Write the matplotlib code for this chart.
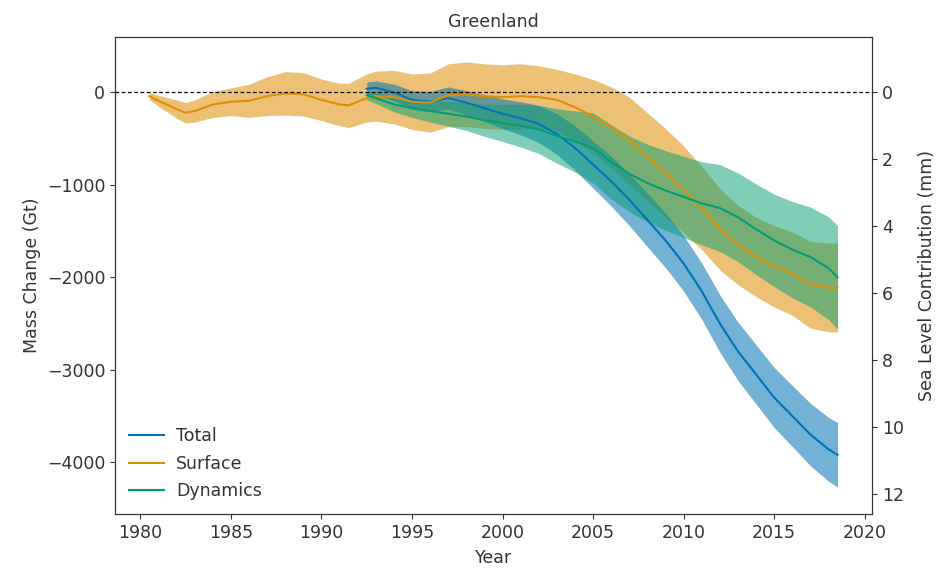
import numpy as np
import matplotlib.pyplot as plt

# Greenland cumulative mass change (Gt) and uncertainty
years_smb = [1980.5, 1981, 1982, 1982.5, 1983, 1984, 1985, 1986, 1987, 1988, 1989, 1990,
             1991, 1991.5, 1992, 1992.5, 1993, 1994, 1995, 1996, 1997, 1998, 1999, 2000,
             2001, 2002, 2003, 2004, 2005, 2006, 2007, 2008, 2009, 2010, 2011, 2012,
             2013, 2014, 2015, 2016, 2017, 2018, 2018.5]
surface = [-40, -90, -180, -220, -200, -130, -100, -90, -40, -10, -20, -80,
           -130, -140, -100, -60, -40, -50, -100, -110, -30, -20, -40, -50,
           -40, -50, -80, -160, -260, -380, -520, -700, -870, -1050, -1250, -1480,
           -1650, -1780, -1880, -1960, -2080, -2110, -2110]
surface_err = [40, 60, 100, 110, 120, 140, 150, 180, 210, 235, 235, 225,
               230, 240, 250, 260, 270, 290, 300, 320, 340, 350, 350, 350,
               350, 340, 330, 360, 400, 440, 470, 480, 480, 470, 450, 440,
               430, 430, 440, 450, 470, 480, 480]

years_tot = [1992.5, 1993, 1994, 1995, 1996, 1997, 1998, 1999, 2000, 2001, 2002, 2003,
             2004, 2005, 2006, 2007, 2008, 2009, 2010, 2011, 2012, 2013, 2014,
             2015, 2016, 2017, 2018, 2018.5]
total = [40, 50, 0, -80, -100, -60, -110, -170, -230, -280, -340, -450,
         -600, -780, -960, -1160, -1380, -1600, -1850, -2150, -2500, -2800, -3050,
         -3300, -3500, -3700, -3860, -3920]
total_err = [70, 75, 90, 100, 110, 120, 130, 145, 160, 180, 200, 220,
             240, 255, 270, 280, 290, 295, 300, 305, 310, 315, 320,
             325, 330, 338, 345, 350]
dynamics = [-30, -60, -130, -170, -200, -230, -260, -300, -330, -360, -400, -470,
            -530, -600, -750, -880, -980, -1060, -1130, -1200, -1250, -1350, -1480,
            -1600, -1700, -1780, -1900, -2000]
dynamics_err = [50, 60, 80, 100, 120, 135, 150, 175, 200, 230, 260, 295,
                330, 380, 400, 410, 420, 430, 440, 450, 470, 480, 490,
                500, 520, 540, 555, 560]

gt_per_mm = 362.0

c_tot = '#0173b2'
c_smb = '#de8f05'
c_dyn = '#029e73'

plt.rcParams['font.family'] = 'DejaVu Sans'
plt.rcParams['font.size'] = 12.5
plt.rcParams['axes.edgecolor'] = '#333333'
plt.rcParams['xtick.color'] = '#333333'
plt.rcParams['ytick.color'] = '#333333'
plt.rcParams['text.color'] = '#333333'
plt.rcParams['axes.labelcolor'] = '#333333'

fig = plt.figure(figsize=(9.36, 5.71), dpi=100)
ax = fig.add_axes([0.1229, 0.0998, 0.8087, 0.8354])

ys = np.array(surface)
es = np.array(surface_err)
yt = np.array(total)
et = np.array(total_err)
yd = np.array(dynamics)
ed = np.array(dynamics_err)

ax.fill_between(years_smb, ys - es, ys + es, color=c_smb, alpha=0.55, lw=0)
ax.fill_between(years_tot, yt - et, yt + et, color=c_tot, alpha=0.55, lw=0)
ax.fill_between(years_tot, yd - ed, yd + ed, color=c_dyn, alpha=0.5, lw=0)

ax.plot(years_tot, total, color=c_tot, lw=1.5, label='Total')
ax.plot(years_smb, surface, color=c_smb, lw=1.5, label='Surface')
ax.plot(years_tot, dynamics, color=c_dyn, lw=1.5, label='Dynamics')

ax.axhline(0, color='k', ls='--', lw=0.9, dashes=(3, 2))

ax.set_xlim(1978.6, 2020.4)
ax.set_ylim(-4560, 600)
ax.set_xticks(np.arange(1980, 2021, 5))
ax.set_yticks([0, -1000, -2000, -3000, -4000])
ax.set_xlabel('Year', labelpad=5)
ax.set_ylabel('Mass Change (Gt)')
ax.set_title('Greenland', fontsize=12.5, pad=7)
ax.legend(loc='lower left', frameon=False, handlelength=2.0, handletextpad=0.7,
          borderaxespad=0.4, labelspacing=0.55)

ax2 = ax.twinx()
lo, hi = ax.get_ylim()
ax2.set_ylim(-lo / gt_per_mm, -hi / gt_per_mm)
ax2.set_yticks([0, 2, 4, 6, 8, 10, 12])
ax2.set_ylabel('Sea Level Contribution (mm)', labelpad=10)

fig.savefig('out.png', dpi=100)
